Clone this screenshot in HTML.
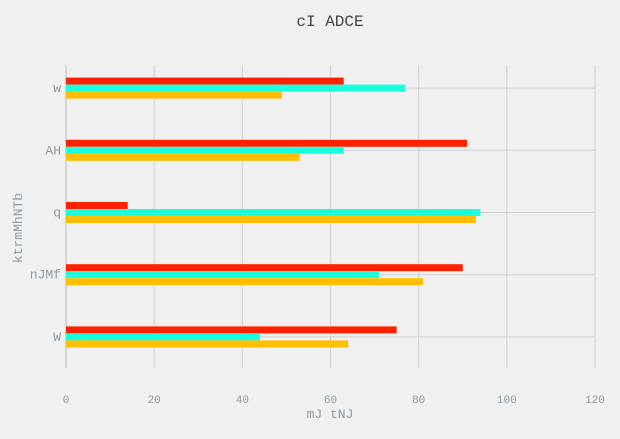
<!DOCTYPE html>
<html><head><meta charset="utf-8"><style>
body{margin:0;background:#f0f0f0;}
svg text{font-family:"Liberation Mono",monospace;fill:#8c9ba5;}
</style></head><body>
<svg id="c" width="620" height="434">
<rect width="620" height="434" fill="#f0f0f0"/>
<text x="330" y="26" text-anchor="middle" font-size="16" style="fill:#444">cI ADCE</text>
<text x="330" y="418" text-anchor="middle" font-size="13">mJ tNJ</text>
<text transform="translate(22,228) rotate(-90)" text-anchor="middle" font-size="13">ktrmMhNTb</text>
<g id="grid"></g><g id="bars"></g><g id="labels"></g>
</svg>
<script>
const categories=["W","nJMf","q","AH","w"];
const redVals=[75,90,14,91,63];
const cyanVals=[44,71,94,63,77];
const yellowVals=[64,81,93,53,49];
const xTicks=[0,20,40,60,80,100,120];
const L=66,R=595,T=57,B=368,xMax=120;
const x=v=>L+v/xMax*(R-L);
const step=(B-T)/categories.length;
const y=i=>B-step*(i+0.5);
const ns="http://www.w3.org/2000/svg";
const g=document.getElementById('grid'),bg=document.getElementById('bars'),lg=document.getElementById('labels');
function mk(tag,a,p){const e=document.createElementNS(ns,tag);for(const k in a)e.setAttribute(k,a[k]);p.appendChild(e);return e;}
xTicks.forEach(t=>{
 const l=mk('line',{x1:x(t),x2:x(t),y1:T+8,y2:B,stroke:t===0?'#bbb':'#d0d0d0','stroke-width':1},g);
 
 
 const tx=mk('text',{x:x(t),y:403,'text-anchor':'middle','font-size':11},lg);tx.textContent=t;
 
 
});
categories.forEach((c,i)=>{
 const l=mk('line',{x1:L,x2:R,y1:y(i),y2:y(i),stroke:'#d0d0d0','stroke-width':1},g);
 
 
 const tx=mk('text',{x:61,y:y(i)+4,'text-anchor':'end','font-size':13},lg);tx.textContent=c;
 
 
 [[redVals,'#ff2200',-10.5],[cyanVals,'#1affdd',-3.5],[yellowVals,'#ffbf00',3.5]].forEach(([arr,col,off])=>{
  const r=mk('rect',{x:x(0),y:y(i)+off,width:x(arr[i])-x(0),height:7,fill:col},bg);
  
  
 });
});
</script>
</body></html>
